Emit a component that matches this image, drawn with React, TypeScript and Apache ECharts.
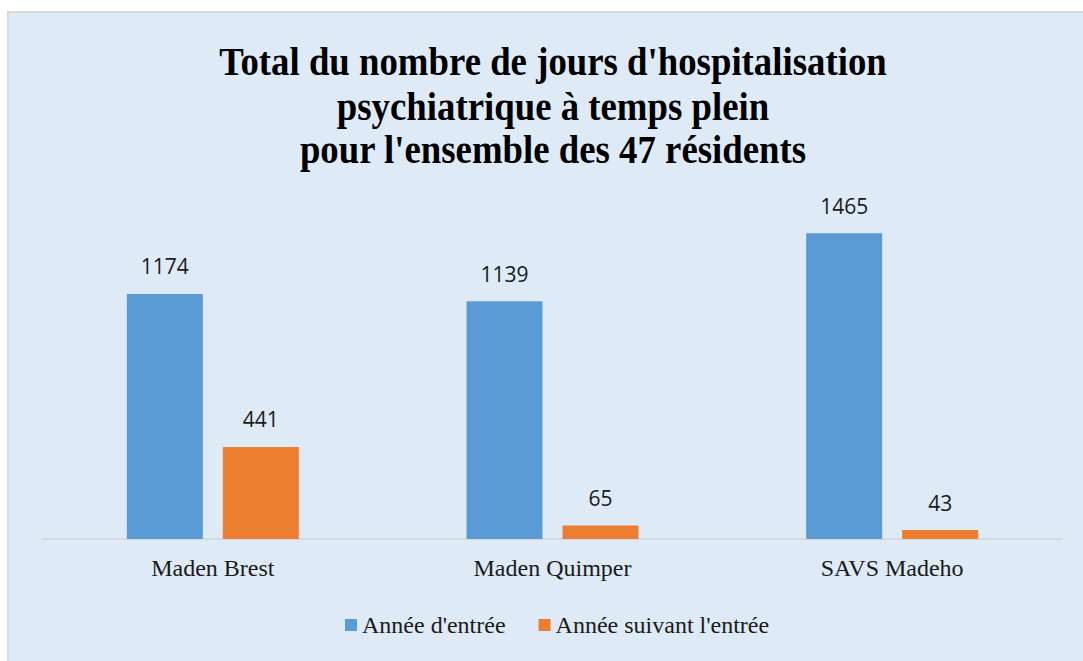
import React, { useEffect, useRef } from "react";
import * as echarts from "echarts";

const categories = ["Maden Brest", "Maden Quimper", "SAVS Madeho"];
const seriesNames = ["Année d'entrée", "Année suivant l'entrée"];
const entryYear = [1174, 1139, 1465];
const followingYear = [441, 65, 43];
const titleLines = [
  "Total du nombre de jours d'hospitalisation",
  "psychiatrique à temps plein",
  "pour l'ensemble des 47 résidents",
];

export default function App() {
  const ref = useRef<HTMLDivElement>(null);
  useEffect(() => {
    if (!ref.current) return;
    const chart = echarts.init(ref.current, undefined, { renderer: "svg" });
    const titleY = [61, 106, 149];
    chart.setOption({
      animation: false,
      graphic: [
        {
          type: "rect",
          z: -100,
          silent: true,
          shape: { x: 8, y: 12, width: 1090, height: 670 },
          style: { fill: "#DEEAF6", stroke: "#D9D9D9", lineWidth: 2 },
        },
        ...titleLines.map((t, i) => ({
          type: "text",
          x: 553,
          y: titleY[i],
          scaleX: 0.92,
          silent: true,
          style: {
            text: t,
            x: 0,
            y: 0,
            align: "center",
            verticalAlign: "middle",
            font: "bold 40px 'Liberation Serif', 'Times New Roman', serif",
            fill: "#000000",
          },
        })),
      ],
      legend: {
        data: seriesNames,
        left: 345,
        top: 613,
        padding: 0,
        itemWidth: 12,
        itemHeight: 12,
        itemGap: 33,
        icon: "rect",
        textStyle: {
          fontFamily: "'Liberation Serif', 'Times New Roman', serif",
          fontSize: 24,
          color: "#1a1a1a",
        },
      },
      grid: { left: 43, right: 21, top: 205, bottom: 122 },
      xAxis: {
        type: "category",
        data: categories,
        axisLine: { lineStyle: { color: "#D9D9D9", width: 2 } },
        axisTick: { show: false },
        axisLabel: {
          fontFamily: "'Liberation Serif', 'Times New Roman', serif",
          fontSize: 24,
          color: "#1a1a1a",
          margin: 17,
        },
      },
      yAxis: {
        type: "value",
        min: 0,
        max: 1600,
        show: false,
        splitLine: { show: false },
      },
      series: [
        {
          name: seriesNames[0],
          type: "bar",
          data: entryYear,
          barWidth: 76,
          barGap: "26.3%",
          itemStyle: { color: "#5B9BD5" },
          label: {
            show: true,
            position: "top",
            distance: 17,
            fontFamily: "'Open Sans', sans-serif",
            fontSize: 21,
            color: "#1a1a1a",
          },
        },
        {
          name: seriesNames[1],
          type: "bar",
          data: followingYear,
          barWidth: 76,
          itemStyle: { color: "#ED7D31" },
          label: {
            show: true,
            position: "top",
            distance: 17,
            fontFamily: "'Open Sans', sans-serif",
            fontSize: 21,
            color: "#1a1a1a",
          },
        },
      ],
    });
    return () => chart.dispose();
  }, []);
  return (
    <div
      ref={ref}
      style={{ position: "fixed", left: 0, top: 0, width: 1083, height: 661, background: "#ffffff" }}
    />
  );
}
